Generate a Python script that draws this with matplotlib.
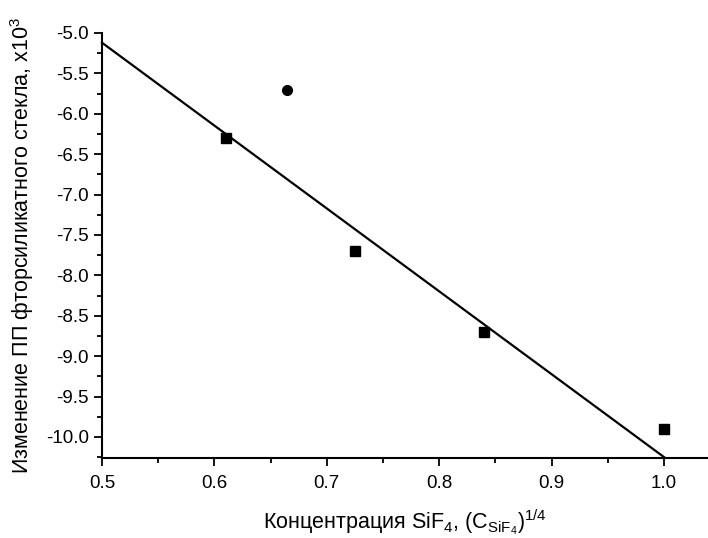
import matplotlib
matplotlib.use("Agg")
import matplotlib.pyplot as plt
from matplotlib.ticker import MultipleLocator, FormatStrFormatter

plt.rcParams['font.family'] = ['Liberation Sans', 'DejaVu Sans']
plt.rcParams['mathtext.fontset'] = 'custom'
plt.rcParams['mathtext.rm'] = 'Liberation Sans'
plt.rcParams['mathtext.it'] = 'Liberation Sans'
plt.rcParams['mathtext.bf'] = 'Liberation Sans:bold'

sq_x = [0.61, 0.725, 0.84, 1.0]
sq_y = [-6.3, -7.7, -8.7, -9.9]
circ_x = [0.665]
circ_y = [-5.7]
line_x = [0.5, 1.0]
line_y = [-5.12, -10.25]

fig = plt.figure(figsize=(7.08, 5.38), dpi=100)
ax = fig.add_axes([0.144, 0.1487, 0.856, 0.79])
ax.plot(line_x, line_y, color='black', lw=1.6, clip_on=False)
ax.plot(sq_x, sq_y, 's', color='black', ms=6.5)
ax.plot(circ_x, circ_y, 'o', color='black', ms=7)

ax.set_xlim(0.5, 1.039)
ax.set_ylim(-10.26, -5.0)
ax.xaxis.set_major_locator(MultipleLocator(0.1))
ax.xaxis.set_minor_locator(MultipleLocator(0.05))
ax.yaxis.set_major_locator(MultipleLocator(0.5))
ax.yaxis.set_minor_locator(MultipleLocator(0.25))
ax.xaxis.set_major_formatter(FormatStrFormatter('%.1f'))
ax.yaxis.set_major_formatter(FormatStrFormatter('%.1f'))
for s in ['top', 'right']:
    ax.spines[s].set_visible(False)
for s in ['left', 'bottom']:
    ax.spines[s].set_linewidth(1.5)
ax.tick_params(which='major', direction='out', length=6, width=1.3, labelsize=13.5)
ax.tick_params(axis='x', which='major', pad=6)
ax.tick_params(which='minor', direction='out', length=3.5, width=1.3)

ax.set_xlabel(r'Концентрация SiF$_4$, (C$_{\mathrm{SiF_4}}$)$^{1/4}$', fontsize=15.5, labelpad=11)
ax.set_ylabel(r'Изменение ПП фторсиликатного стекла, x10$^3$', fontsize=15.5, labelpad=7)
fig.savefig('out.png', dpi=100)
